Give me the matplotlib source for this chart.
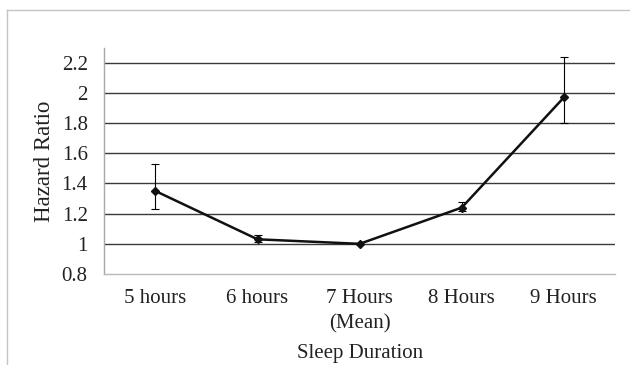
import matplotlib.pyplot as plt
from matplotlib.lines import Line2D

# data
categories = ['5 hours', '6 hours', '7 Hours\n(Mean)', '8 Hours', '9 Hours']
hazard = [1.35, 1.03, 1.00, 1.24, 1.97]
ci_low = [1.23, 1.01, 1.00, 1.22, 1.80]
ci_high = [1.53, 1.06, 1.00, 1.28, 2.24]
yticks = [0.8, 1, 1.2, 1.4, 1.6, 1.8, 2, 2.2]
yticklabels = ['0.8', '1', '1.2', '1.4', '1.6', '1.8', '2', '2.2']

plt.rcParams['font.family'] = ['Liberation Serif', 'DejaVu Serif']

fig = plt.figure(figsize=(6.3, 3.65), dpi=100)
ax = fig.add_axes([0.1657, 0.2493, 0.976 - 0.1657, 0.8693 - 0.2493])

x = list(range(len(categories)))
err_lo = [h - lo for h, lo in zip(hazard, ci_low)]
err_hi = [hi - h for h, hi in zip(hazard, ci_high)]

# gridlines
for t in yticks[1:]:
    ax.axhline(t, color='#3a3a3a', lw=1.0, zorder=1)

ax.errorbar(x, hazard, yerr=[err_lo, err_hi], fmt='none', ecolor='black',
            elinewidth=0.8, capsize=3, capthick=0.8, zorder=3)
ax.plot(x, hazard, color='#111111', lw=1.8, marker='D', ms=4,
        mfc='#111111', mec='#111111', zorder=4)

ax.set_xlim(-0.5, len(categories) - 0.5)
ax.set_ylim(0.8, 2.3)
ax.set_yticks(yticks)
ax.set_yticklabels(yticklabels)
ax.set_xticks(x)
ax.set_xticklabels(categories, linespacing=1.4)
ax.tick_params(axis='y', length=0, pad=12, labelsize=15, colors='#222222')
ax.tick_params(axis='x', length=0, pad=11, labelsize=15, colors='#222222')

for s in ['top', 'right']:
    ax.spines[s].set_visible(False)
ax.spines['left'].set_color('#a8a8a8')
ax.spines['bottom'].set_color('#b8b8b8')
ax.spines['left'].set_linewidth(1.0)
ax.spines['bottom'].set_linewidth(1.0)

ax.set_ylabel('Hazard Ratio', fontsize=16.5, color='#222222', labelpad=5)
ax.set_xlabel('Sleep Duration', fontsize=15, color='#222222', labelpad=7.5)

# outer chart frame
fig.add_artist(Line2D([7 / 630, 1], [1 - 10 / 365, 1 - 10 / 365],
                      transform=fig.transFigure, color='#c4c4c4', lw=1.0))
fig.add_artist(Line2D([7 / 630, 7 / 630], [0, 1 - 10 / 365],
                      transform=fig.transFigure, color='#c4c4c4', lw=1.0))

fig.savefig('out.png', dpi=100)
